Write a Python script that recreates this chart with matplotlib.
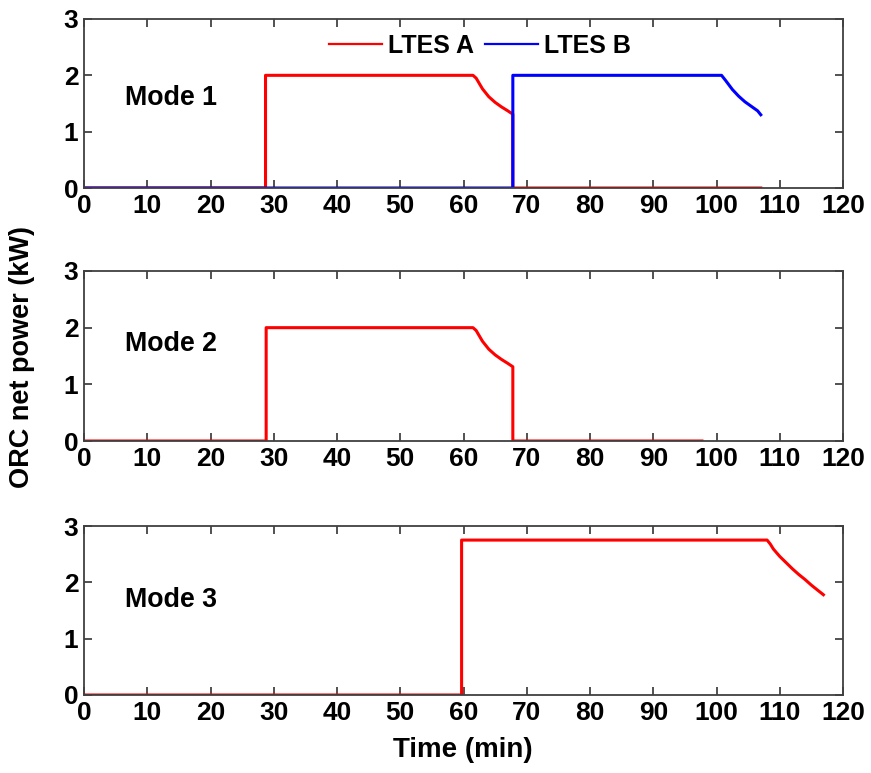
import matplotlib.pyplot as plt

plt.rcParams["font.family"] = ["Liberation Sans", "DejaVu Sans"]
plt.rcParams["font.weight"] = "bold"

# Mode 1: two storage units discharging one after the other
m1_a_time = [0, 28.7, 28.7, 61.5, 62, 63, 64, 65, 66, 67, 67.8, 67.8, 107]
m1_a_power = [0, 0, 2.0, 2.0, 1.95, 1.76, 1.62, 1.52, 1.44, 1.37, 1.31, 0, 0]
m1_b_time = [0, 67.8, 67.8, 100.8, 101.5, 102.5, 103.5, 104.5, 105.5, 106.5, 107]
m1_b_power = [0, 0, 2.0, 2.0, 1.9, 1.75, 1.63, 1.53, 1.45, 1.37, 1.3]

# Mode 2: single unit
m2_time = [0, 28.8, 28.8, 61.5, 62, 63, 64, 65, 66, 67, 67.8, 67.8, 97.7]
m2_power = [0, 0, 2.0, 2.0, 1.95, 1.76, 1.62, 1.52, 1.44, 1.37, 1.31, 0, 0]

# Mode 3: delayed start, higher output
m3_time = [0, 59.7, 59.7, 108, 108.5, 109, 110, 111, 112, 113, 114, 115, 116, 116.9]
m3_power = [0, 0, 2.75, 2.75, 2.68, 2.59, 2.46, 2.35, 2.24, 2.14, 2.05, 1.95, 1.86, 1.78]

mode_labels = ["Mode 1", "Mode 2", "Mode 3"]
x_ticks = list(range(0, 121, 10))
y_ticks = [0, 1, 2, 3]

fig = plt.figure(figsize=(8.71, 7.73), dpi=100)
W, H = 871, 773
boxes = [(19, 188), (271, 441), (526, 695)]
axes = []
for top, bottom in boxes:
    ax = fig.add_axes([84 / W, 1 - bottom / H, (843 - 84) / W, (bottom - top) / H])
    axes.append(ax)

lw = 2.2
axes[0].plot(m1_a_time, m1_a_power, color="#ff0000", lw=lw, label="LTES A")
axes[0].plot(m1_b_time, m1_b_power, color="#0000ff", lw=lw, label="LTES B")
axes[1].plot(m2_time, m2_power, color="#ff0000", lw=lw)
axes[2].plot(m3_time, m3_power, color="#ff0000", lw=lw)

mode_y = [1.6, 1.72, 1.68]
for ax, label, my in zip(axes, mode_labels, mode_y):
    ax.set_xlim(0, 120)
    ax.set_ylim(0, 3)
    ax.set_xticks(x_ticks)
    ax.set_yticks(y_ticks)
    ax.tick_params(direction="in", top=True, right=True, length=6, width=1.2,
                   labelsize=19, pad=4, color="#333333")
    for s in ax.spines.values():
        s.set_color("#404040")
        s.set_linewidth(1.3)
    ax.text(6.5, my, label, fontsize=19.3, fontweight="bold", va="center", ha="left")

leg = axes[0].legend(loc="center", bbox_to_anchor=(0.522, 0.84), ncol=2, frameon=False,
                     fontsize=18, handlelength=2.1, handletextpad=0.25, columnspacing=0.45)
for line in leg.get_lines():
    line.set_linewidth(1.6)

fig.text(22 / W, 1 - 357 / H, "ORC net power (kW)", rotation=90, fontsize=19.5,
         fontweight="bold", ha="center", va="center")
fig.text(463 / W, 1 - 750 / H, "Time (min)", fontsize=20, fontweight="bold",
         ha="center", va="center")

fig.savefig("out.png", dpi=100)
